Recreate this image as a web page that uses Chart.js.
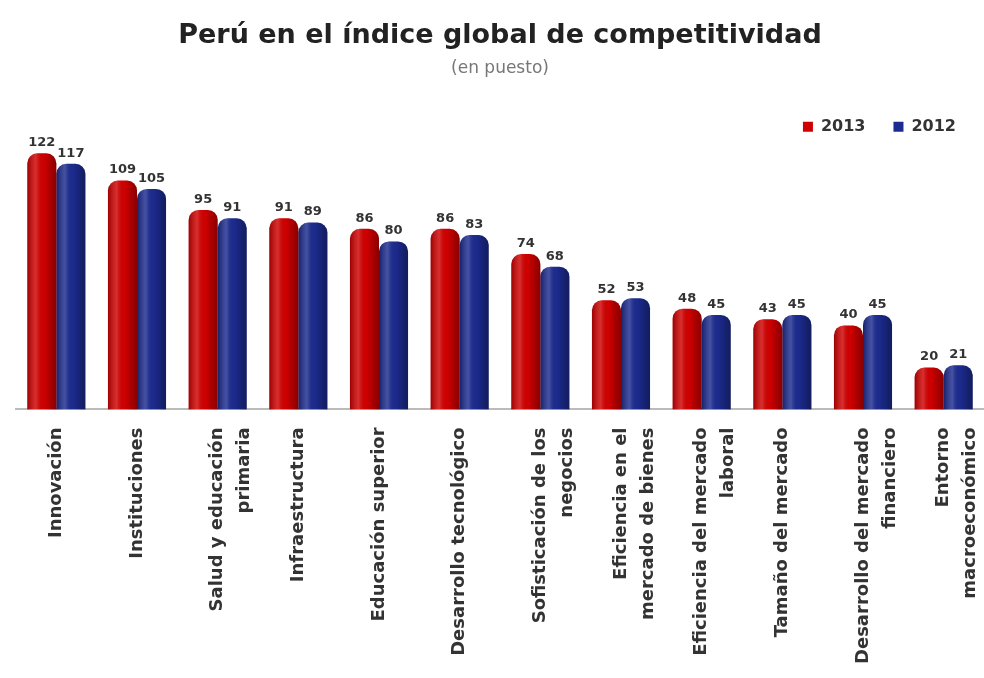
<!DOCTYPE html>
<html>
<head>
<meta charset="utf-8">
<script src="https://cdn.jsdelivr.net/npm/chart.js@4"></script>
<style>
  html, body { margin: 0; padding: 0; background: #fff; }
  #wrap { width: 984px; height: 678px; }
</style>
</head>
<body>
<div id="wrap"><canvas id="chart"></canvas></div>
<script>
// datos del grafico
const categorias = [
  'Innovación',
  'Instituciones',
  ['Salud y educación', 'primaria'],
  'Infraestructura',
  'Educación superior',
  'Desarrollo tecnológico',
  ['Sofisticación de los', 'negocios'],
  ['Eficiencia en el', 'mercado de bienes'],
  ['Eficiencia del mercado', 'laboral'],
  'Tamaño del mercado',
  ['Desarrollo del mercado', 'financiero'],
  ['Entorno', 'macroeconómico']
];
const puesto2013 = [122, 109, 95, 91, 86, 86, 74, 52, 48, 43, 40, 20];
const puesto2012 = [117, 105, 91, 89, 80, 83, 68, 53, 45, 45, 45, 21];

const fuente = '"DejaVu Sans", sans-serif';
const radio = 10;

// brillo de cilindro sobre cada barra
const brillo = {
  id: 'brillo',
  afterDatasetsDraw(chart) {
    const c = chart.ctx;
    chart.data.datasets.forEach((ds, i) => {
      chart.getDatasetMeta(i).data.forEach(bar => {
        const x0 = bar.x - bar.width / 2, x1 = bar.x + bar.width / 2;
        const g = c.createLinearGradient(x0, 0, x1, 0);
        g.addColorStop(0, 'rgba(0,0,0,0.25)');
        g.addColorStop(0.3, 'rgba(255,255,255,0.18)');
        g.addColorStop(0.55, 'rgba(0,0,0,0)');
        g.addColorStop(1, 'rgba(0,0,0,0.35)');
        c.save();
        c.fillStyle = g;
        c.beginPath();
        c.roundRect(x0, bar.y, bar.width, bar.base - bar.y, [radio, radio, 0, 0]);
        c.fill();
        c.restore();
      });
    });
  }
};

// etiquetas de valor
const etiquetas = {
  id: 'etiquetas',
  afterDatasetsDraw(chart) {
    const c = chart.ctx;
    c.save();
    c.font = 'bold 13px ' + fuente;
    c.fillStyle = '#333';
    c.textAlign = 'center';
    c.textBaseline = 'bottom';
    chart.data.datasets.forEach((ds, i) => {
      chart.getDatasetMeta(i).data.forEach((bar, j) => {
        c.fillText(ds.data[j], bar.x, bar.y - 4);
      });
    });
    c.restore();
  }
};

new Chart(document.getElementById('chart'), {
  type: 'bar',
  data: {
    labels: categorias,
    datasets: [
      { label: '2013', data: puesto2013, backgroundColor: '#d10000', borderRadius: { topLeft: radio, topRight: radio }, borderSkipped: 'bottom' },
      { label: '2012', data: puesto2012, backgroundColor: '#1c2b8f', borderRadius: { topLeft: radio, topRight: radio }, borderSkipped: 'bottom' }
    ]
  },
  options: {
    responsive: true,
    maintainAspectRatio: false,
    animation: false,
    layout: { padding: { top: 20, left: 16, right: 0, bottom: 4 } },
    datasets: { bar: { categoryPercentage: 0.72, barPercentage: 1.0 } },
    plugins: {
      title: {
        display: true,
        text: 'Perú en el índice global de competitividad',
        font: { family: fuente, size: 27, weight: 'bold' },
        color: '#222',
        padding: { top: 0, bottom: 6 }
      },
      subtitle: {
        display: true,
        text: '(en puesto)',
        font: { family: fuente, size: 17 },
        color: '#777',
        padding: { top: 0, bottom: 12 }
      },
      legend: {
        position: 'top',
        align: 'end',
        labels: {
          boxWidth: 10,
          boxHeight: 10,
          padding: 28,
          font: { family: fuente, size: 16, weight: 'bold' },
          color: '#333'
        }
      },
      tooltip: { enabled: false }
    },
    scales: {
      y: { display: false, min: 0, max: 126 },
      x: {
        grid: { display: false },
        border: { color: '#bbb', width: 2 },
        afterFit(scale) { scale.paddingLeft = 0; scale.paddingRight = 0; },
        ticks: {
          minRotation: 90,
          maxRotation: 90,
          autoSkip: false,
          padding: 10,
          color: '#333',
          font: { family: fuente, size: 18, weight: 'bold', lineHeight: 1.5 }
        }
      }
    }
  },
  plugins: [brillo, etiquetas]
});
</script>
</body>
</html>
